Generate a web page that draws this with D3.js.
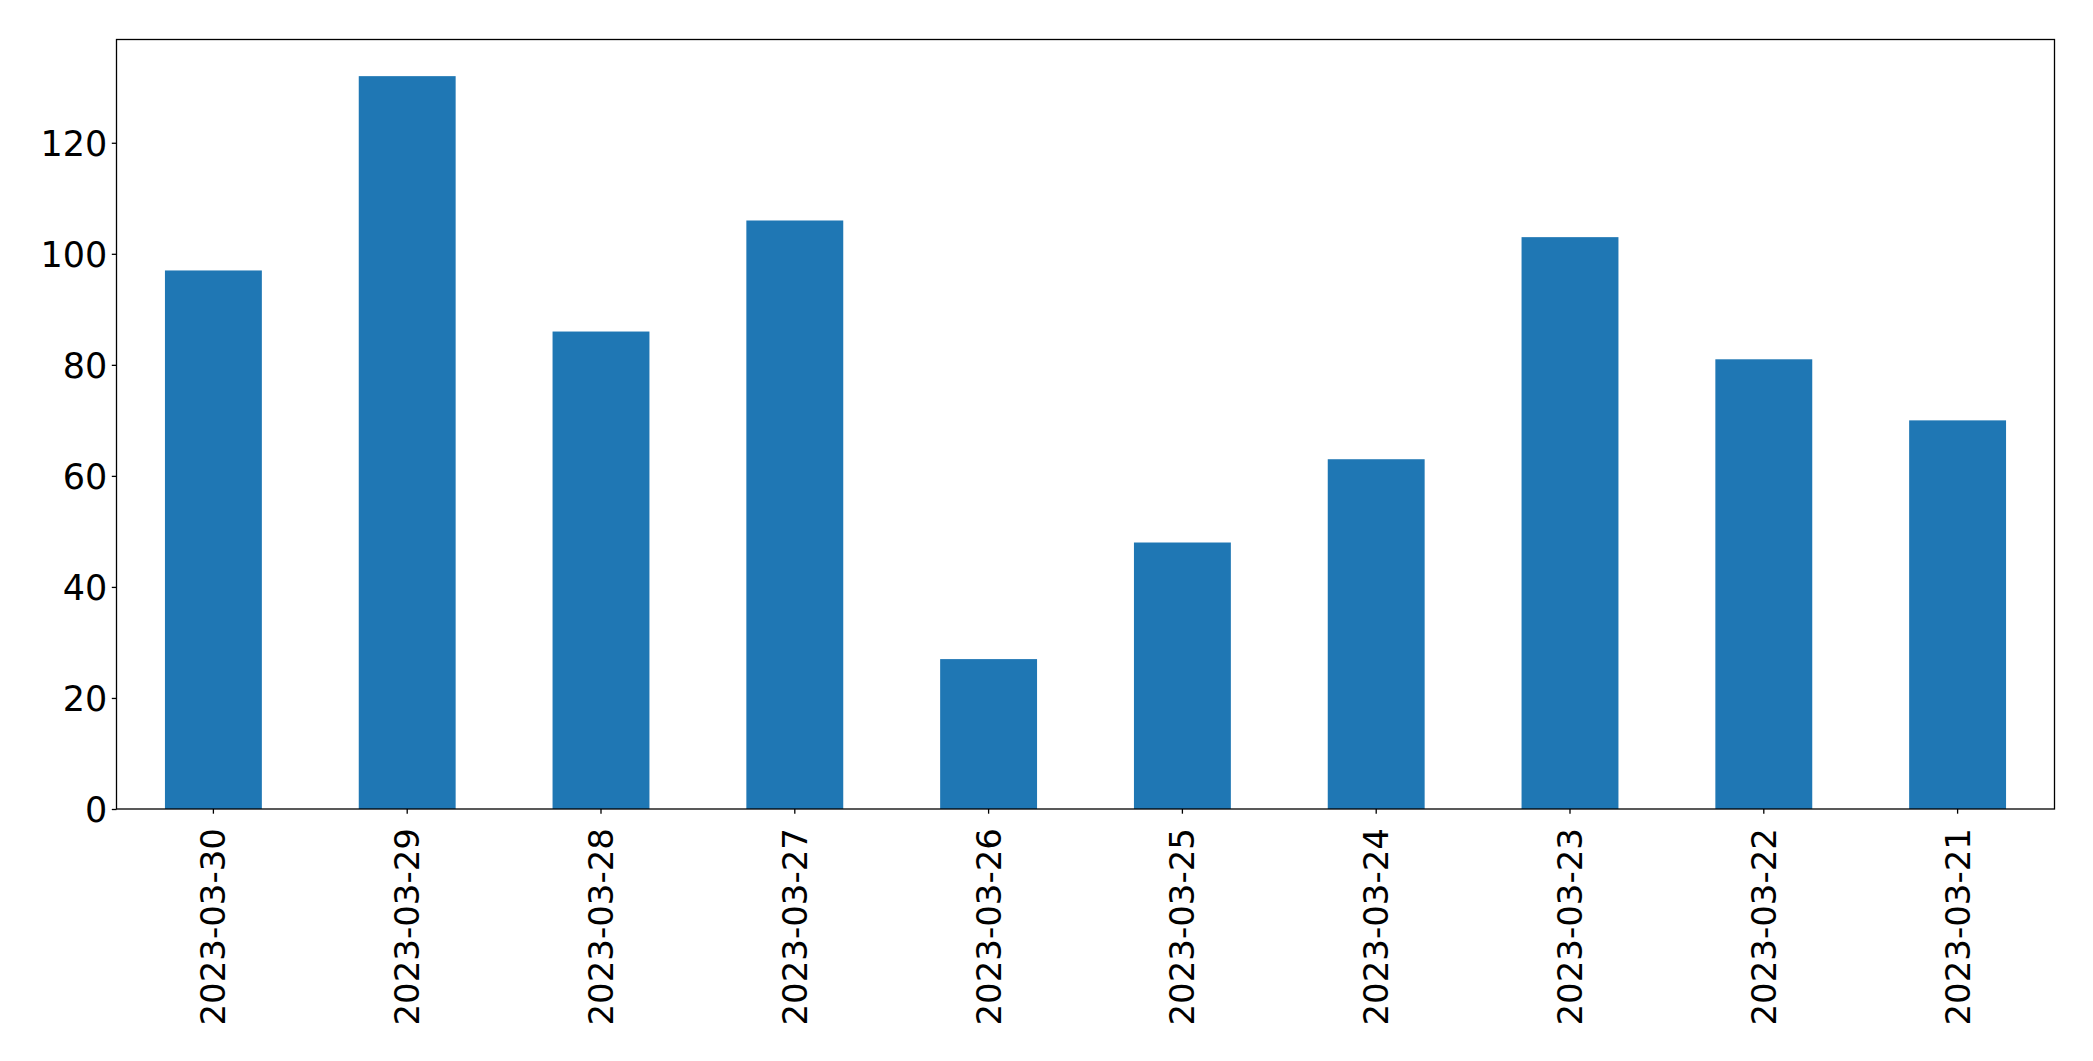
<!DOCTYPE html>
<html>
<head>
<meta charset="utf-8">
<script src="https://cdn.jsdelivr.net/npm/d3@7"></script>
<style>
  body { margin: 0; background: #fff; }
  svg text { font-family: "DejaVu Sans", sans-serif; fill: #000; }
</style>
</head>
<body>
<div id="chart"></div>
<script>
// Données
const dates = ["2023-03-30", "2023-03-29", "2023-03-28", "2023-03-27", "2023-03-26",
               "2023-03-25", "2023-03-24", "2023-03-23", "2023-03-22", "2023-03-21"];
const counts = [97, 132, 86, 106, 27, 48, 63, 103, 81, 70];
const yTicks = [0, 20, 40, 60, 80, 100, 120];

const width = 2093;
const height = 1061;
const margin = { top: 39.5, right: 38.5, bottom: 252, left: 116.5 };
const innerW = width - margin.left - margin.right;
const innerH = height - margin.top - margin.bottom;

const svg = d3.select("#chart").append("svg")
    .attr("width", width)
    .attr("height", height);

const g = svg.append("g")
    .attr("transform", `translate(${margin.left},${margin.top})`);

// Échelle x : bandes comme matplotlib (largeur de barre 0.5)
const x = d3.scaleBand()
    .domain(dates)
    .range([0, innerW])
    .paddingInner(0.5)
    .paddingOuter(0.25);

const y = d3.scaleLinear()
    .domain([0, d3.max(counts) * 1.05])
    .range([innerH, 0]);

// Barres
g.selectAll("rect.bar")
    .data(dates)
    .enter()
    .append("rect")
    .attr("class", "bar")
    .attr("x", d => x(d))
    .attr("y", (d, i) => y(counts[i]))
    .attr("width", x.bandwidth())
    .attr("height", (d, i) => innerH - y(counts[i]))
    .attr("fill", "#1f77b4");

// Axe y
const yAxis = g.append("g")
    .call(d3.axisLeft(y).tickValues(yTicks).tickSize(4.7).tickPadding(4.5));
yAxis.select(".domain").remove();
yAxis.selectAll("line").attr("stroke", "#000").attr("stroke-width", 1.3);
yAxis.selectAll("text")
    .style("font-size", "35px")
    .attr("dy", "0.35em");

// Axe x
const xAxis = g.append("g")
    .attr("transform", `translate(0,${innerH})`)
    .call(d3.axisBottom(x).tickSize(4.7).tickPadding(0));
xAxis.select(".domain").remove();
xAxis.selectAll("line").attr("stroke", "#000").attr("stroke-width", 1.3);
xAxis.selectAll("text")
    .style("font-size", "34px")
    .attr("text-anchor", "end")
    .attr("dy", "0.35em")
    .attr("y", 0)
    .attr("transform", "translate(0,19) rotate(-90)");

// Cadre
g.append("rect")
    .attr("x", 0)
    .attr("y", 0)
    .attr("width", innerW)
    .attr("height", innerH)
    .attr("fill", "none")
    .attr("stroke", "#000")
    .attr("stroke-width", 1.3);
</script>
</body>
</html>
